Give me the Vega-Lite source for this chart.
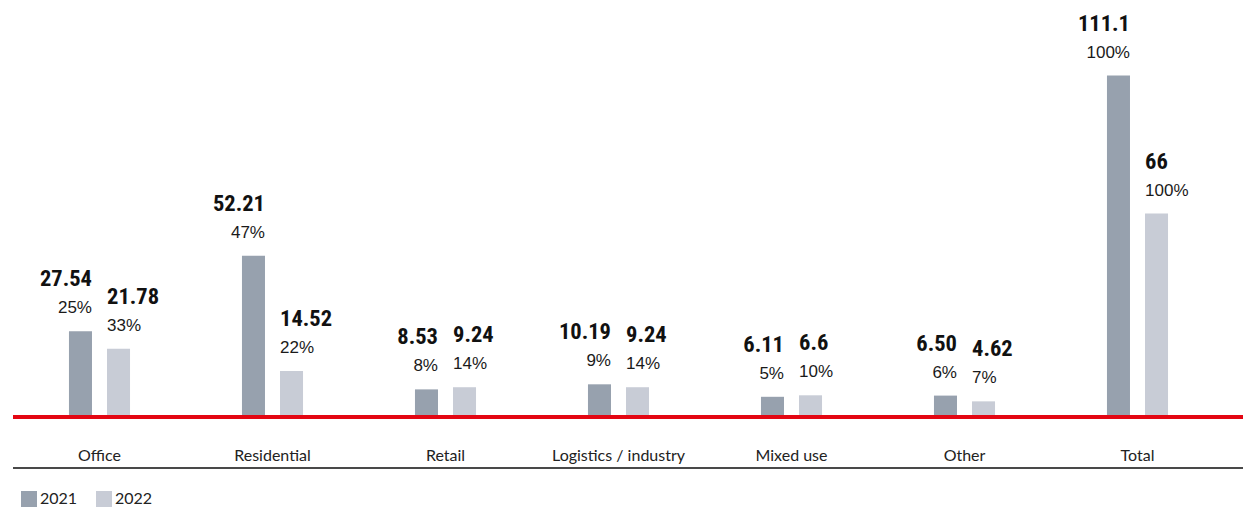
{
  "$schema": "https://vega.github.io/schema/vega-lite/v6.json",
  "width": 1230,
  "height": 468,
  "autosize": {"type": "none"},
  "padding": {"left": 13, "top": 0, "right": 0, "bottom": 43},
  "background": "white",
  "config": {"view": {"stroke": null}},
  "data": {
    "values": [
      {"category": "Office", "year": "2021", "value": 27.54, "label": "27.54", "pct": "25%"},
      {"category": "Office", "year": "2022", "value": 21.78, "label": "21.78", "pct": "33%"},
      {"category": "Residential", "year": "2021", "value": 52.21, "label": "52.21", "pct": "47%"},
      {"category": "Residential", "year": "2022", "value": 14.52, "label": "14.52", "pct": "22%"},
      {"category": "Retail", "year": "2021", "value": 8.53, "label": "8.53", "pct": "8%"},
      {"category": "Retail", "year": "2022", "value": 9.24, "label": "9.24", "pct": "14%"},
      {"category": "Logistics / industry", "year": "2021", "value": 10.19, "label": "10.19", "pct": "9%"},
      {"category": "Logistics / industry", "year": "2022", "value": 9.24, "label": "9.24", "pct": "14%"},
      {"category": "Mixed use", "year": "2021", "value": 6.11, "label": "6.11", "pct": "5%"},
      {"category": "Mixed use", "year": "2022", "value": 6.6, "label": "6.6", "pct": "10%"},
      {"category": "Other", "year": "2021", "value": 6.5, "label": "6.50", "pct": "6%"},
      {"category": "Other", "year": "2022", "value": 4.62, "label": "4.62", "pct": "7%"},
      {"category": "Total", "year": "2021", "value": 111.1, "label": "111.1", "pct": "100%"},
      {"category": "Total", "year": "2022", "value": 66, "label": "66", "pct": "100%"}
    ]
  },
  "layer": [
    {
      "mark": {"type": "bar"},
      "encoding": {
        "x": {
          "field": "category",
          "type": "nominal",
          "sort": null,
          "scale": {"range": [0, 1211], "paddingInner": 0.647, "paddingOuter": 0.3235},
          "axis": {
            "title": null,
            "domain": false,
            "ticks": false,
            "tickSize": 0,
            "grid": false,
            "labelAngle": 0,
            "labelPadding": -8,
            "labelBaseline": "alphabetic",
            "labelFont": "Lato",
            "labelFontSize": 16,
            "labelColor": "#222222"
          }
        },
        "xOffset": {"field": "year", "type": "nominal", "scale": {"paddingInner": 0.395, "paddingOuter": 0}},
        "y": {
          "field": "value",
          "type": "quantitative",
          "scale": {"domain": [-17.16, 135.78], "nice": false},
          "axis": null
        },
        "y2": {"datum": 0},
        "color": {
          "field": "year",
          "type": "nominal",
          "scale": {"domain": ["2021", "2022"], "range": ["#97a1ae", "#c8ccd6"]},
          "legend": {
            "orient": "none",
            "legendX": 8,
            "legendY": 491,
            "direction": "horizontal",
            "title": null,
            "symbolType": "square",
            "symbolSize": 256,
            "symbolStrokeWidth": 0,
            "symbolOpacity": 1,
            "labelFont": "Lato",
            "labelFontSize": 16,
            "labelColor": "#222222",
            "labelOffset": 3,
            "columnPadding": 18
          }
        }
      }
    },
    {
      "mark": {"type": "rule", "color": "#e30613", "strokeWidth": 3, "yOffset": 1.5},
      "encoding": {"y": {"datum": 0}}
    },
    {
      "mark": {"type": "rule", "color": "#4a4a4a", "strokeWidth": 1.5},
      "encoding": {"y": {"datum": -17.16}}
    },
    {
      "transform": [{"filter": "datum.year == '2021'"}],
      "mark": {"type": "text", "align": "right", "dx": 11.5, "dy": -45, "baseline": "alphabetic", "font": "'Roboto Condensed', 'Noto Sans ExtraCondensed', 'DejaVu Sans Condensed', sans-serif", "fontWeight": "bold", "fontSize": 22.5, "color": "#111111"},
      "encoding": {
        "x": {"field": "category", "type": "nominal", "sort": null},
        "xOffset": {"field": "year", "type": "nominal"},
        "y": {"field": "value", "type": "quantitative"},
        "text": {"field": "label"}
      }
    },
    {
      "transform": [{"filter": "datum.year == '2022'"}],
      "mark": {"type": "text", "align": "left", "dx": -11.5, "dy": -45, "baseline": "alphabetic", "font": "'Roboto Condensed', 'Noto Sans ExtraCondensed', 'DejaVu Sans Condensed', sans-serif", "fontWeight": "bold", "fontSize": 22.5, "color": "#111111"},
      "encoding": {
        "x": {"field": "category", "type": "nominal", "sort": null},
        "xOffset": {"field": "year", "type": "nominal"},
        "y": {"field": "value", "type": "quantitative"},
        "text": {"field": "label"}
      }
    },
    {
      "transform": [{"filter": "datum.year == '2021'"}],
      "mark": {"type": "text", "align": "right", "dx": 11.5, "dy": -18, "baseline": "alphabetic", "font": "Liberation Sans", "fontSize": 17, "color": "#1a1a1a"},
      "encoding": {
        "x": {"field": "category", "type": "nominal", "sort": null},
        "xOffset": {"field": "year", "type": "nominal"},
        "y": {"field": "value", "type": "quantitative"},
        "text": {"field": "pct"}
      }
    },
    {
      "transform": [{"filter": "datum.year == '2022'"}],
      "mark": {"type": "text", "align": "left", "dx": -11.5, "dy": -18, "baseline": "alphabetic", "font": "Liberation Sans", "fontSize": 17, "color": "#1a1a1a"},
      "encoding": {
        "x": {"field": "category", "type": "nominal", "sort": null},
        "xOffset": {"field": "year", "type": "nominal"},
        "y": {"field": "value", "type": "quantitative"},
        "text": {"field": "pct"}
      }
    }
  ]
}
